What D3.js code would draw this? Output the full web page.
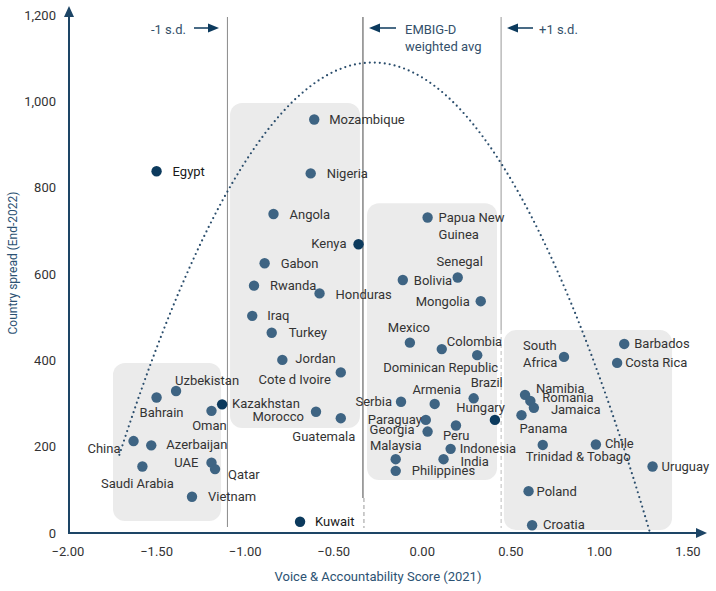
<!DOCTYPE html>
<html><head><meta charset="utf-8">
<script src="https://cdn.jsdelivr.net/npm/d3@7"></script>
<style>
html,body{margin:0;padding:0;background:#fff;}
svg{display:block;font-family:Roboto,"Noto Sans",sans-serif;}
</style></head>
<body><svg id="chart" width="716" height="591"></svg>
<script>
// ---- data ----
const countries = ["Egypt","Kuwait",
 "Uzbekistan","Bahrain","Kazakhstan","Oman","China","Azerbaijan","UAE","Qatar","Saudi Arabia","Vietnam",
 "Mozambique","Nigeria","Angola","Kenya","Gabon","Rwanda","Honduras","Iraq","Turkey","Jordan","Cote d Ivoire","Morocco","Guatemala",
 "Papua New Guinea","Senegal","Bolivia","Mongolia","Mexico","Colombia","Dominican Republic","Brazil","Serbia","Armenia","Hungary","Paraguay","Peru","Georgia","Indonesia","India","Malaysia","Philippines",
 "South Africa","Barbados","Costa Rica","Namibia","Romania","Jamaica","Panama","Chile","Trinidad & Tobago","Uruguay","Poland","Croatia"];
const voiceScore = [-1.50,-0.69,
 -1.39,-1.50,-1.13,-1.19,-1.63,-1.53,-1.19,-1.17,-1.58,-1.30,
 -0.61,-0.63,-0.84,-0.36,-0.89,-0.95,-0.58,-0.96,-0.85,-0.79,-0.46,-0.60,-0.46,
 0.03,0.20,-0.11,0.33,-0.07,0.11,0.31,0.29,-0.12,0.07,0.41,0.02,0.19,0.03,0.16,0.12,-0.15,-0.15,
 0.80,1.14,1.10,0.58,0.61,0.63,0.56,0.98,0.68,1.30,0.60,0.62];
const countrySpread = [838,26,
 329,314,298,283,213,203,163,148,154,84,
 958,833,739,669,625,573,555,503,464,401,372,281,266,
 731,592,586,537,441,426,412,312,304,299,262,262,249,235,195,171,171,144,
 408,438,394,320,306,290,273,205,204,154,97,18];
const highlighted = ["Egypt","Kuwait","Kazakhstan","Kenya","Hungary"];
const xTicks = [-2.0,-1.5,-1.0,-0.5,0.0,0.5,1.0,1.5];
const yTicks = [0,200,400,600,800,1000,1200];
const sdLines = [-1.10,-0.335,0.445];   // -1 s.d., weighted avg, +1 s.d.
// fitted quadratic trend: spread = a*(v-h)^2 + k
const trendA = -444.5, trendH = -0.28, trendK = 1090;
const trendRange = [-1.71, 1.286];

// ---- layout (label placement, boxes) ----
const lab = {
 "Egypt":[16,0,"start"],"Kuwait":[15,0,"start"],
 "Uzbekistan":[-1,-11,"start"],"Bahrain":[5,15,"middle"],"Kazakhstan":[10,-1,"start"],"Oman":[-2,15,"middle"],
 "China":[-13,7,"end"],"Azerbaijan":[15,-1,"start"],"UAE":[-13,0,"end"],"Qatar":[13,5,"start"],
 "Saudi Arabia":[-5,17,"middle"],"Vietnam":[16,0,"start"],
 "Mozambique":[15,0,"start"],"Nigeria":[16,0,"start"],"Angola":[16,0,"start"],"Kenya":[-12,-1,"end"],
 "Gabon":[16,0,"start"],"Rwanda":[16,0,"start"],"Honduras":[16,1,"start"],"Iraq":[15,0,"start"],
 "Turkey":[17,0,"start"],"Jordan":[13,-1,"start"],"Cote d Ivoire":[-10,7,"end"],"Morocco":[-12,5,"end"],
 "Guatemala":[-17,18,"middle"],
 "Papua New Guinea":[11,0,"start"],"Senegal":[2,-16,"middle"],"Bolivia":[11,0,"start"],"Mongolia":[-11,0,"end"],
 "Mexico":[-1,-15,"middle"],"Colombia":[5,-8,"start"],"Dominican Republic":[21,12,"end"],"Brazil":[-3,-16,"start"],
 "Serbia":[-9,0,"end"],"Armenia":[2,-14,"middle"],"Hungary":[10,-12,"end"],"Paraguay":[-4,0,"end"],
 "Peru":[-13,10,"start"],"Georgia":[-13,-2,"end"],"Indonesia":[9,0,"start"],"India":[17,2,"start"],
 "Malaysia":[0,-14,"middle"],"Philippines":[16,0,"start"],
 "South Africa":[-41,-11,"start"],"Barbados":[10,0,"start"],"Costa Rica":[8,0,"start"],"Namibia":[11,-6,"start"],
 "Romania":[12,-3,"start"],"Jamaica":[17,2,"start"],"Panama":[-2,13,"start"],"Chile":[9,-1,"start"],
 "Trinidad & Tobago":[-17,12,"start"],"Uruguay":[9,0,"start"],"Poland":[8,0,"start"],"Croatia":[11,-1,"start"]
};
const twoLine = {"Papua New Guinea":["Papua New","Guinea"],"South Africa":["South","Africa"]};
const boxes = [[-1.746,-1.136,28,394],[-1.085,-0.352,243,996],[-0.312,0.422,123,764],[0.461,1.410,7,470]];

const svg = d3.select("#chart");
const x = d3.scaleLinear().domain([-2,1.5]).range([68,688]);
const y = d3.scaleLinear().domain([0,1200]).range([533,15]);

const navy = "#1d4566", dot = "#3e6483", dark = "#0c3a5d", txt = "#333";

// boxes
svg.append("g").selectAll("rect").data(boxes).join("rect")
 .attr("x",d=>x(d[0])).attr("y",d=>y(d[3])).attr("width",d=>x(d[1])-x(d[0])).attr("height",d=>y(d[2])-y(d[3]))
 .attr("rx",12).attr("fill","#ebebeb");

// vertical reference lines
const topY = 17;
svg.append("line").attr("x1",x(sdLines[0])).attr("x2",x(sdLines[0])).attr("y1",topY).attr("y2",527).attr("stroke","#8a8a8a").attr("stroke-width",1);
svg.append("line").attr("x1",x(sdLines[1])).attr("x2",x(sdLines[1])).attr("y1",topY).attr("y2",498).attr("stroke","#666").attr("stroke-width",1.2);
svg.append("line").attr("x1",x(sdLines[1])+1).attr("x2",x(sdLines[1])+1).attr("y1",498).attr("y2",528).attr("stroke","#999").attr("stroke-width",1).attr("stroke-dasharray","4 3");
svg.append("line").attr("x1",x(sdLines[2])).attr("x2",x(sdLines[2])).attr("y1",topY).attr("y2",330).attr("stroke","#aaa").attr("stroke-width",1.2);
svg.append("line").attr("x1",x(sdLines[2])).attr("x2",x(sdLines[2])).attr("y1",330).attr("y2",528).attr("stroke","#bbb").attr("stroke-width",1).attr("stroke-dasharray","4 3");

// trend curve
const tv = d3.range(0,121).map(i=>trendRange[0]+(trendRange[1]-trendRange[0])*i/120);
svg.append("path").datum(tv)
 .attr("d",d3.line().x(v=>x(v)).y(v=>y(trendA*(v-trendH)**2+trendK)))
 .attr("fill","none").attr("stroke","#2a4d6c").attr("stroke-width",2.2)
 .attr("stroke-linecap","round").attr("stroke-dasharray","0 5");

// axes
const ax = svg.append("g").attr("fill",navy);
svg.append("line").attr("x1",69).attr("x2",69).attr("y1",534).attr("y2",14).attr("stroke",navy).attr("stroke-width",2);
ax.append("path").attr("d","M69,6 L64,17 L74,17 Z");
svg.append("line").attr("x1",68).attr("x2",698).attr("y1",533).attr("y2",533).attr("stroke",navy).attr("stroke-width",2);
ax.append("path").attr("d","M707,533 L696,528 L696,538 Z");

svg.append("g").selectAll("text").data(yTicks).join("text")
 .attr("x",56).attr("y",d=>y(d)).attr("dy","0.35em").attr("text-anchor","end")
 .attr("font-size",13).attr("fill",txt).text(d=>d3.format(",")(d));
svg.append("g").selectAll("text").data(xTicks).join("text")
 .attr("x",d=>x(d)).attr("y",551).attr("dy","0.35em").attr("text-anchor","middle")
 .attr("font-size",13).attr("fill",txt).text(d=>d3.format(".2f")(d));

svg.append("text").attr("x",378).attr("y",576).attr("dy","0.35em").attr("text-anchor","middle")
 .attr("font-size",13).attr("fill","#2c5273").text("Voice & Accountability Score (2021)");
svg.append("text").attr("transform","translate(13,263) rotate(-90)").attr("dy","0.35em").attr("text-anchor","middle")
 .attr("font-size",12).attr("fill","#2c5273").text("Country spread (End-2022)");

// annotations
const ann = svg.append("g").attr("font-size",13).attr("fill","#34506a");
ann.append("text").attr("x",186).attr("y",29).attr("dy","0.35em").attr("text-anchor","end").text("-1 s.d.");
svg.append("line").attr("x1",194).attr("x2",210).attr("y1",28).attr("y2",28).attr("stroke",dark).attr("stroke-width",1.5);
svg.append("path").attr("d","M219,28 L208,23.5 L208,32.5 Z").attr("fill",dark);
ann.append("text").attr("x",405).attr("y",29).attr("dy","0.35em").text("EMBIG-D");
ann.append("text").attr("x",405).attr("y",46).attr("dy","0.35em").text("weighted avg");
svg.append("line").attr("x1",396).attr("x2",378).attr("y1",28).attr("y2",28).attr("stroke",dark).attr("stroke-width",1.5);
svg.append("path").attr("d","M369,28 L380,23.5 L380,32.5 Z").attr("fill",dark);
ann.append("text").attr("x",539).attr("y",29).attr("dy","0.35em").text("+1 s.d.");
svg.append("line").attr("x1",533).attr("x2",516).attr("y1",28).attr("y2",28).attr("stroke",dark).attr("stroke-width",1.5);
svg.append("path").attr("d","M507,28 L518,23.5 L518,32.5 Z").attr("fill",dark);

// points
const pts = countries.map((c,i)=>({c, v:voiceScore[i], s:countrySpread[i], hi:highlighted.includes(c)}));
svg.append("g").selectAll("circle").data(pts).join("circle")
 .attr("cx",d=>x(d.v)).attr("cy",d=>y(d.s)).attr("r",5.2)
 .attr("fill",d=>d.hi?dark:dot);

const lg = svg.append("g").attr("font-size",13);
pts.forEach(d=>{
  const [dx,dy,anc] = lab[d.c];
  const t = lg.append("text").attr("x",x(d.v)+dx).attr("y",y(d.s)+dy).attr("dy","0.35em")
    .attr("text-anchor",anc).attr("fill",(d.c==="Egypt"||d.c==="Kuwait")?"#1a1a1a":txt);
  if (twoLine[d.c]) {
    t.text(twoLine[d.c][0]);
    lg.append("text").attr("x",x(d.v)+dx).attr("y",y(d.s)+dy+17).attr("dy","0.35em")
      .attr("text-anchor",anc).attr("fill",txt).text(twoLine[d.c][1]);
  } else t.text(d.c);
});
</script></body></html>
